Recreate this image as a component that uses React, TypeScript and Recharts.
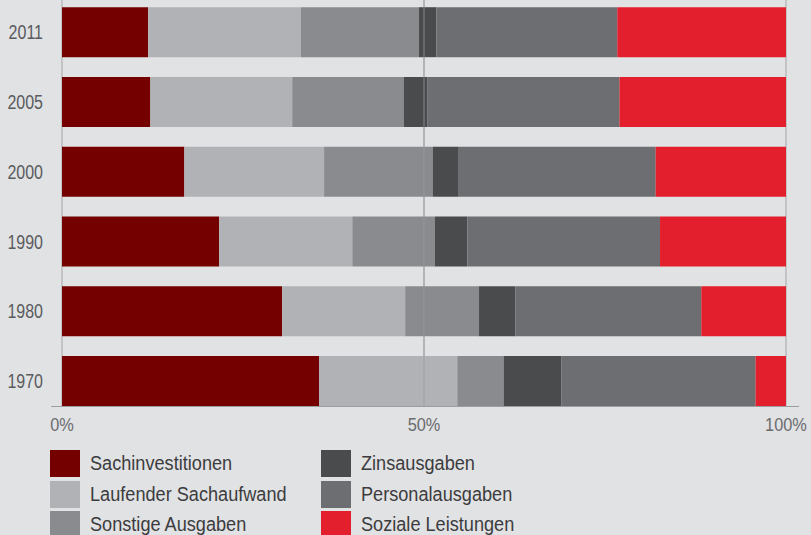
import { BarChart, Bar, XAxis, YAxis, CartesianGrid, ReferenceLine, Legend } from 'recharts';

// Ausgabenstruktur in % der Gesamtausgaben
const years = ['2011', '2005', '2000', '1990', '1980', '1970'];
const sachinvestitionen = [11.9, 12.2, 16.9, 21.7, 30.4, 35.5];
const laufenderSachaufwand = [21.1, 19.6, 19.3, 18.4, 17.0, 19.1];
const sonstigeAusgaben = [16.3, 15.4, 15.0, 11.4, 10.2, 6.4];
const zinsausgaben = [2.4, 3.3, 3.6, 4.5, 5.0, 8.0];
const personalausgaben = [25.0, 26.5, 27.2, 26.6, 25.7, 26.8];
const sozialeLeistungen = [23.3, 23.0, 18.0, 17.4, 11.7, 4.2];
const xTicks = [0, 50, 100];

const series = [
  { key: 'sach', name: 'Sachinvestitionen', color: '#750000', values: sachinvestitionen },
  { key: 'lauf', name: 'Laufender Sachaufwand', color: '#b1b2b5', values: laufenderSachaufwand },
  { key: 'sonst', name: 'Sonstige Ausgaben', color: '#8a8b8e', values: sonstigeAusgaben },
  { key: 'zins', name: 'Zinsausgaben', color: '#4a4b4d', values: zinsausgaben },
  { key: 'pers', name: 'Personalausgaben', color: '#6d6e71', values: personalausgaben },
  { key: 'soz', name: 'Soziale Leistungen', color: '#e31f2d', values: sozialeLeistungen },
];

const chartData = years.map((year, i) => {
  const row: Record<string, string | number> = { year };
  series.forEach((s) => {
    row[s.key] = s.values[i];
  });
  return row;
});

const FONT = "'Liberation Sans', Arial, sans-serif";

// condensed look: the original uses a narrow Helvetica cut
function YearTick({ x, y, payload }: any) {
  return (
    <g transform={`translate(${x},${y})`}>
      <text
        transform="scale(0.8,1)"
        textAnchor="end"
        dy="0.36em"
        fill="#5a5b5e"
        fontSize={20}
        fontFamily={FONT}
      >
        {payload.value}
      </text>
    </g>
  );
}

function PercentTick({ x, y, payload }: any) {
  return (
    <g transform={`translate(${x},${y})`}>
      <text
        transform="scale(0.86,1)"
        textAnchor="middle"
        dy="0.71em"
        fill="#6a6b6e"
        fontSize={19}
        fontFamily={FONT}
      >
        {`${payload.value}%`}
      </text>
    </g>
  );
}

function LegendContent() {
  const columns = [series.slice(0, 3), series.slice(3, 6)];
  return (
    <div style={{ display: 'flex', fontFamily: FONT }}>
      {columns.map((col, ci) => (
        <div key={ci} style={{ width: ci === 0 ? 271 : 230 }}>
          {col.map((item) => (
            <div
              key={item.key}
              style={{ display: 'flex', alignItems: 'center', height: 27, marginBottom: 3.7 }}
            >
              <span style={{ width: 30, height: 27, background: item.color, flex: 'none' }} />
              <span
                style={{
                  marginLeft: 10,
                  fontSize: 19.5,
                  color: '#3c3c3e',
                  whiteSpace: 'nowrap',
                  display: 'inline-block',
                  transform: 'scaleX(0.93)',
                  transformOrigin: 'left center',
                }}
              >
                {item.name}
              </span>
            </div>
          ))}
        </div>
      ))}
    </div>
  );
}

export default function App() {
  return (
    <div
      style={{
        position: 'absolute',
        left: 0,
        top: 0,
        width: 811,
        height: 535,
        background: '#e1e2e4',
        overflow: 'hidden',
      }}
    >
      <BarChart
        width={811}
        height={535}
        data={chartData}
        layout="vertical"
        margin={{ top: 0, right: 25, left: 0, bottom: 99 }}
      >
        <CartesianGrid horizontal={false} vertical stroke="#a4a5a8" />
        <XAxis
          type="number"
          domain={[0, 100]}
          ticks={xTicks}
          axisLine={false}
          tickLine={false}
          tickMargin={5}
          height={30}
          tick={<PercentTick />}
        />
        <YAxis
          type="category"
          dataKey="year"
          width={62}
          axisLine={false}
          tickLine={false}
          tickMargin={13}
          padding={{ top: -2.8, bottom: -9.8 }}
          tick={<YearTick />}
        />
        {series.map((s) => (
          <Bar
            key={s.key}
            dataKey={s.key}
            name={s.name}
            stackId="a"
            fill={s.color}
            barSize={50}
            isAnimationActive={false}
          />
        ))}
        <ReferenceLine x={50} stroke="#9a9b9e" strokeOpacity={0.75} />
        <Legend
          layout="horizontal"
          verticalAlign="middle"
          align="center"
          content={<LegendContent />}
          wrapperStyle={{ left: 50, top: 450, width: 520, height: 90 }}
        />
      </BarChart>
      <div
        style={{
          position: 'absolute',
          left: 51,
          top: 406,
          width: 748,
          height: 1,
          background: '#9c9da0',
        }}
      />
    </div>
  );
}
